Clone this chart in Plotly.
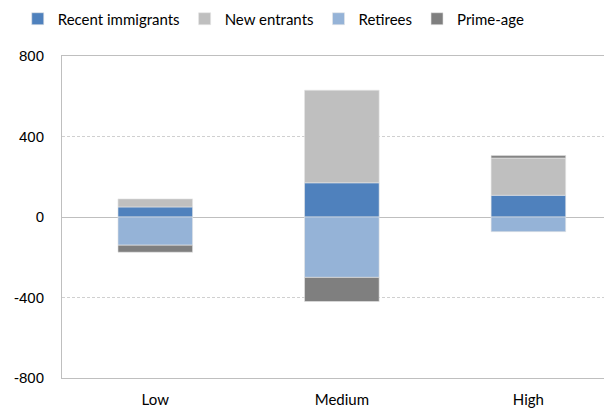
import plotly.graph_objects as go

categories = ["Low", "Medium", "High"]
recent_immigrants = [50, 170, 108]
new_entrants = [40, 460, 185]
retirees = [-140, -300, -73]
prime_age = [-35, -120, 12]
y_ticks = [-800, -400, 0, 400, 800]
y_tick_labels = ["-800", "-400", "0", "400", "800"]

series = [
    ("Recent immigrants", recent_immigrants, "#4F81BD"),
    ("New entrants", new_entrants, "#BFBFBF"),
    ("Retirees", retirees, "#95B3D7"),
    ("Prime-age", prime_age, "#7F7F7F"),
]

fig = go.Figure()
for name, vals, color in series:
    fig.add_trace(go.Bar(
        x=categories, y=vals, name=name,
        marker=dict(color=color, line=dict(color="#E6E6E6", width=0.6)),
        width=0.4,
    ))

# page body has an 8px margin, so the figure is sized to fit the window
fig.update_layout(
    barmode="relative",
    width=604, height=402,
    margin=dict(l=54, r=0, t=48, b=32, autoexpand=False),
    paper_bgcolor="white", plot_bgcolor="white",
    font=dict(family="Liberation Sans, Arial, sans-serif", size=15, color="black"),
    legend=dict(
        orientation="h", x=0.385, xanchor="center", y=1.115, yanchor="middle",
        font=dict(family="Lato, Carlito, sans-serif", size=15),
        traceorder="normal", itemwidth=30,
    ),
    showlegend=True,
)
fig.update_xaxes(
    range=[-0.5, 2.448],
    showline=True, linecolor="#BFBFBF", linewidth=1, mirror=True,
    ticks="", ticklabelstandoff=8,
    tickfont=dict(family="Lato, Carlito, sans-serif", size=15),
    showgrid=False,
)
fig.update_yaxes(
    range=[-800, 800], tickvals=y_ticks, ticktext=y_tick_labels,
    showline=True, linecolor="#BFBFBF", linewidth=1,
    showgrid=True, gridcolor="#D0D0D0", griddash="3px,2px", gridwidth=1,
    zeroline=True, zerolinecolor="#BFBFBF", zerolinewidth=1,
    ticks="", ticklabelstandoff=14, tickfont=dict(size=15),
)
fig.write_html("out.html")
